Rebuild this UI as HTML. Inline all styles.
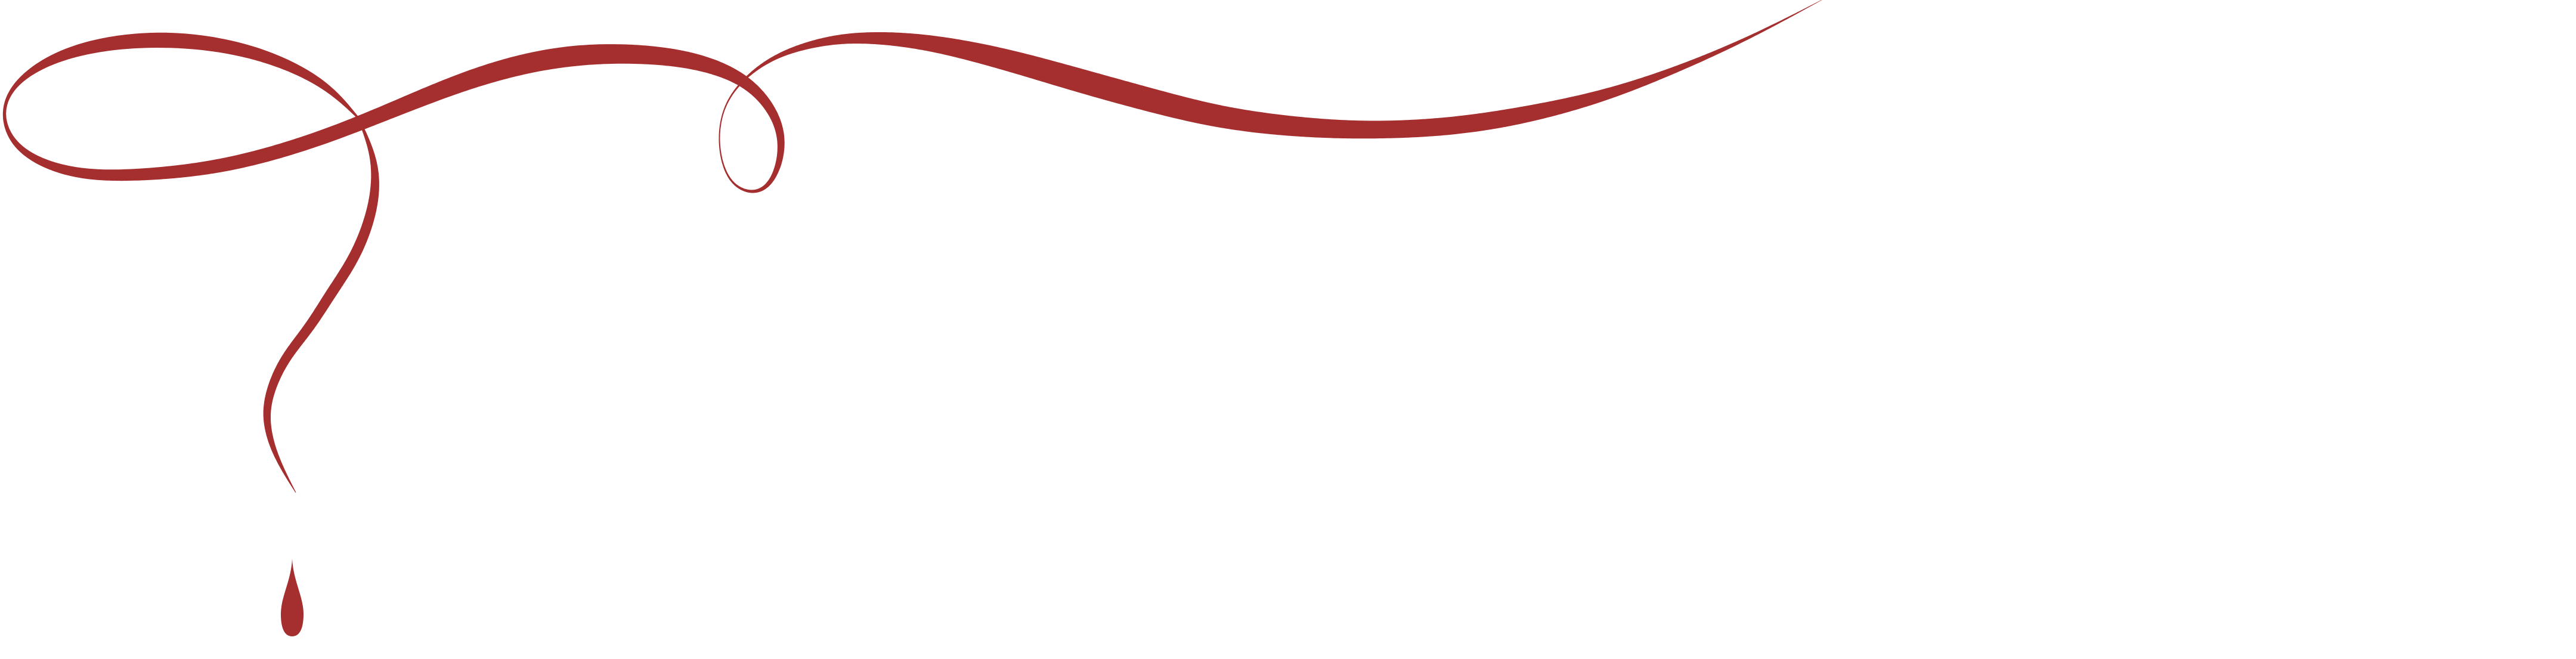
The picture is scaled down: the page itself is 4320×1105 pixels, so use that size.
<!DOCTYPE html>
<html><head><meta charset="utf-8"><title>Ornamental swirl</title>
<style>
html,body{margin:0;padding:0;background:#fff;}
#wrap{width:4320px;height:1105px;position:relative;overflow:hidden;background:#fff;}
svg{display:block;}
</style></head>
<body>
<div id="wrap">
<svg id="svg" width="4320" height="1105" viewBox="0 0 4320 1105">
  <g id="ribbons"></g>
  <path fill="#a52e2e"
    d="M490,937 C492,975 509,1000 509,1030 C509,1055 502,1067 490,1067 C478,1067 471,1055 471,1030 C471,1000 488,975 490,937 Z"/>
</svg>
</div>
<script>
// main ribbon centerline: x, y, width
const mainX = [601,540,420,268,120,30,4,30,120,240,380,520,640,800,950,1100,1200,1265,1305,1310,1290,1260,1225,1206,1212,1245,1300,1370,1440,1550,1680,1800,1930,2050,2180,2300,2430,2550,2680,2800,2930,3055];
const mainY = [198,138,85,65,85,135,190,250,290,293,277,238,192,128,93,92,112,148,205,260,310,323,305,250,185,135,95,72,63,70,98,132,168,197,213,218,212,194,163,121,65,0];
const mainW = [3,14,22,27,20,8,4,10,17,20,23,24,25,32,35,31,25,18,14,11,7,5,3,2,2,3,7,13,18,26,36,40,40,37,33,29,30,29,20,11,5,0.5];
// stem centerline
const stemX = [601,622,630,622,595,555,518,477,452,447,462,496];
const stemY = [198,250,300,360,430,492,550,603,660,707,763,826];
const stemW = [3,8,14,17,18,18,17,16,14,12,8,1];

function ribbon(xs, ys, ws, name){
  const n = xs.length, sub = 30;
  let pts = [];
  const P = i => {
    if(i<0) return [2*xs[0]-xs[1], 2*ys[0]-ys[1]];
    if(i>n-1) return [2*xs[n-1]-xs[n-2], 2*ys[n-1]-ys[n-2]];
    return [xs[i], ys[i]];
  };
  const tj=(t,a,b)=>t+Math.max(1e-3,Math.sqrt(Math.hypot(b[0]-a[0],b[1]-a[1])));
  for(let i=0;i<n-1;i++){
    const p0=P(i-1),p1=P(i),p2=P(i+1),p3=P(i+2);
    const t0=0,t1=tj(t0,p0,p1),t2=tj(t1,p1,p2),t3=tj(t2,p2,p3);
    for(let s=0;s<sub;s++){
      const u=s/sub, t=t1+(t2-t1)*u;
      const lerp=(a,b,ta,tb)=>[(tb-t)/(tb-ta)*a[0]+(t-ta)/(tb-ta)*b[0],(tb-t)/(tb-ta)*a[1]+(t-ta)/(tb-ta)*b[1]];
      const A1=lerp(p0,p1,t0,t1),A2=lerp(p1,p2,t1,t2),A3=lerp(p2,p3,t2,t3);
      const B1=lerp(A1,A2,t0,t2),B2=lerp(A2,A3,t1,t3);
      const C=lerp(B1,B2,t1,t2);
      pts.push([C[0],C[1],ws[i]+(ws[i+1]-ws[i])*u]);
    }
  }
  pts.push([xs[n-1],ys[n-1],ws[n-1]]);
  // light smoothing of sampled centerline and widths
  for(let pass=0;pass<3;pass++){
    const k=10, out=pts.map(p=>p.slice());
    for(let i=1;i<pts.length-1;i++){
      let sx=0,sy=0,sw=0,c=0;
      for(let j=Math.max(0,i-k);j<=Math.min(pts.length-1,i+k);j++){sx+=pts[j][0];sy+=pts[j][1];sw+=pts[j][2];c++;}
      out[i]=[sx/c,sy/c,sw/c];
    }
    pts=out;
  }
  const L=[],R=[];
  for(let i=0;i<pts.length;i++){
    const a=pts[Math.max(0,i-2)],b=pts[Math.min(pts.length-1,i+2)];
    let dx=b[0]-a[0],dy=b[1]-a[1];const len=Math.hypot(dx,dy)||1;dx/=len;dy/=len;
    const h=pts[i][2]/2;
    L.push([pts[i][0]-dy*h,pts[i][1]+dx*h]);
    R.push([pts[i][0]+dy*h,pts[i][1]-dx*h]);
  }
  const all=L.concat(R.reverse());
  const d='M'+all.map(p=>p[0].toFixed(1)+','+p[1].toFixed(1)).join(' L')+' Z';
  const el=document.createElementNS('http://www.w3.org/2000/svg','path');
  el.setAttribute('d',d);
  el.setAttribute('fill','#a52e2e');
  
  
  document.getElementById('ribbons').appendChild(el);
}
ribbon(stemX, stemY, stemW, 'stem-ribbon');
ribbon(mainX, mainY, mainW, 'main-ribbon');
</script>
</body></html>
